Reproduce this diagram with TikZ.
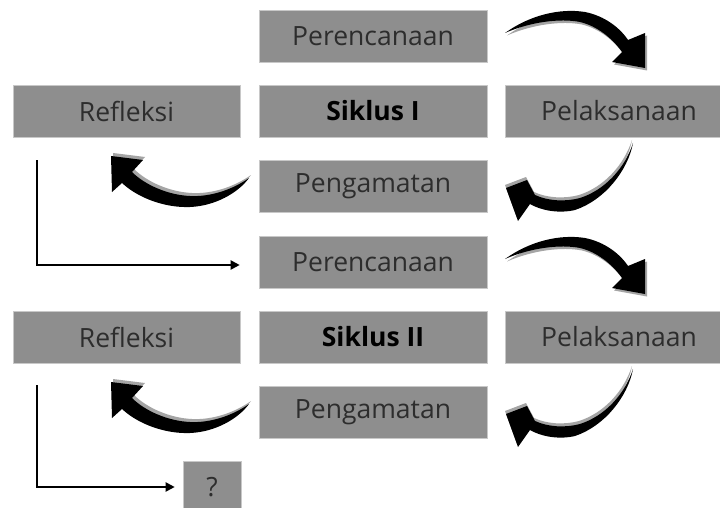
\documentclass[tikz,border=0pt]{standalone}
\usepackage{fontspec}
\setmainfont{Open Sans}
\usetikzlibrary{arrows.meta}
\definecolor{boxgray}{RGB}{142,142,142}
\definecolor{boxline}{RGB}{200,200,200}
\definecolor{txtgray}{RGB}{45,45,45}
\definecolor{shadowgray}{RGB}{165,165,165}
\newcommand\curveA{(505,33) .. controls (530,15) and (560,8) .. (585,12) .. controls (605,16) and (620,28) .. (628,40) -- (645,33) -- (645,68) -- (612,62) -- (622,52) .. controls (612,38) and (597,26) .. (580,22) .. controls (560,18) and (530,22) .. (505,33) -- cycle}
\newcommand\curveB{(633,143) .. controls (628,170) and (605,200) .. (575,210) .. controls (558,214) and (540,210) .. (530,204) -- (518,221) -- (506,188) -- (527,180) -- (535,195) .. controls (548,201) and (565,202) .. (580,198) .. controls (605,190) and (625,168) .. (633,143) -- cycle}
\newcommand\curveC{(249,178) .. controls (232,190) and (210,197) .. (190,196) .. controls (168,195) and (145,185) .. (132,172) -- (143,160) -- (111,156) -- (112,192) -- (122,183) .. controls (138,198) and (165,208) .. (190,207) .. controls (215,206) and (238,193) .. (249,178) -- cycle}
\tikzset{
  arrA/.pic={\fill[shadowgray,shift={(2,2.5)}] \curveA; \fill[black] \curveA;},
  arrB/.pic={\fill[shadowgray,shift={(-1,-3)}] \curveB; \fill[black] \curveB;},
  arrC/.pic={\fill[shadowgray,shift={(2,-3)}] \curveC; \fill[black] \curveC;}
}
\begin{document}
\begin{tikzpicture}[x=1pt,y=-1pt,
  box/.style={fill=boxgray, draw=boxline, line width=0.6pt, minimum width=228pt, minimum height=52pt, inner sep=0pt, text=txtgray, font=\fontsize{26.5}{31}\selectfont},
  boldbox/.style={box, text=black, font=\fontsize{26.5}{31}\selectfont\bfseries},
  lconn/.style={line width=2pt, -{Triangle[length=9pt,width=9pt]}}]
\clip (0,0) rectangle (720,508);
\fill[white] (0,0) rectangle (720,508);
% cycle I
\node[box] (per1) at (373,36) {Perencanaan};
\node[box, minimum width=227pt] (ref1) at (126.5,111) {Refleksi};
\node[boldbox] (sik1) at (373,111) {Siklus I};
\node[box] (pel1) at (619,111) {Pelaksanaan};
\node[box] (pen1) at (373,186.5) {Pengamatan};
% cycle II
\node[box] (per2) at (373,262) {Perencanaan};
\node[box, minimum width=227pt] (ref2) at (126.5,337) {Refleksi};
\node[boldbox] (sik2) at (373,337) {Siklus II};
\node[box] (pel2) at (619,337) {Pelaksanaan};
\node[box] (pen2) at (373,412.5) {Pengamatan};
% next
\node[box, minimum width=58pt] (q) at (212,487) {?};
% curved arrows
\pic at (0,0) {arrA};
\pic at (0,0) {arrB};
\pic at (0,0) {arrC};
\pic at (0,226) {arrA};
\pic at (0,226) {arrB};
\pic at (0,226) {arrC};
% L connectors
\coordinate (s1) at (37,160);
\coordinate (s2) at (37,385);
\draw[lconn, shorten >=19pt] (s1) |- ([yshift=-3pt]per2.west);
\draw[lconn, shorten >=8pt] (s2) |- (q.west);
\end{tikzpicture}
\end{document}
